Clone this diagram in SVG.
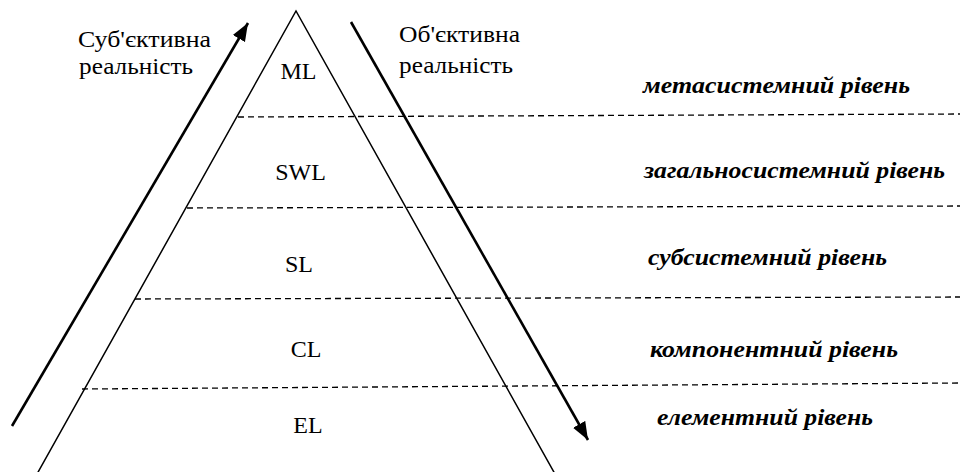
<svg xmlns="http://www.w3.org/2000/svg" width="960" height="472" viewBox="0 0 960 472">
<defs>
<style>
.lbl{font-family:"Liberation Serif","Times New Roman",serif;font-size:24px;fill:#000}
.lvl{font-family:"Liberation Serif","Times New Roman",serif;font-size:23px;font-weight:bold;font-style:italic;fill:#000}
.dash{stroke:#000;stroke-width:1.3;stroke-dasharray:6 4;fill:none}
.arr{stroke:#000;stroke-width:2.6;fill:none;marker-end:url(#ah)}
</style>
<marker id="ah" markerUnits="userSpaceOnUse" markerWidth="20" markerHeight="16" refX="18" refY="7" orient="auto" viewBox="0 0 20 14">
<path d="M0,0 L18,7 L0,14 Z" fill="#000"/>
</marker>
</defs>
<rect width="960" height="472" fill="#fff"/>
<g id="pyramid">
<polyline points="37,474 296,11 555,474" fill="none" stroke="#000" stroke-width="1.5"/>
</g>
<g id="levels">
<line class="dash" x1="238" y1="117" x2="960" y2="114"/>
<line class="dash" x1="187" y1="208" x2="960" y2="206"/>
<line class="dash" x1="135" y1="299" x2="960" y2="297"/>
<line class="dash" x1="82" y1="389" x2="960" y2="383"/>
</g>
<g id="connectors">
<line class="arr" x1="12" y1="426" x2="248" y2="23"/>
<line class="arr" x1="351" y1="22" x2="588" y2="440"/>
</g>
<g id="subjective">
<text class="lbl" x="78" y="47" textLength="133" lengthAdjust="spacingAndGlyphs">Суб'єктивна</text>
<text class="lbl" x="79" y="74" textLength="114" lengthAdjust="spacingAndGlyphs">реальність</text>
</g>
<g id="objective">
<text class="lbl" x="399" y="42" textLength="121" lengthAdjust="spacingAndGlyphs">Об'єктивна</text>
<text class="lbl" x="399" y="73" textLength="114" lengthAdjust="spacingAndGlyphs">реальність</text>
</g>
<g id="ML"><text class="lbl" x="298.5" y="79" text-anchor="middle">ML</text></g>
<g id="SWL"><text class="lbl" x="300.5" y="180" text-anchor="middle">SWL</text></g>
<g id="SL"><text class="lbl" x="299" y="272" text-anchor="middle">SL</text></g>
<g id="CL"><text class="lbl" x="306" y="357" text-anchor="middle">CL</text></g>
<g id="EL"><text class="lbl" x="308" y="433" text-anchor="middle">EL</text></g>
<g id="meta"><text class="lvl" x="643" y="93" textLength="267" lengthAdjust="spacingAndGlyphs">метасистемний рівень</text></g>
<g id="general"><text class="lvl" x="644" y="178" textLength="301" lengthAdjust="spacingAndGlyphs">загальносистемний рівень</text></g>
<g id="sub"><text class="lvl" x="648" y="265" textLength="239" lengthAdjust="spacingAndGlyphs">субсистемний рівень</text></g>
<g id="comp"><text class="lvl" x="650" y="357" textLength="248" lengthAdjust="spacingAndGlyphs">компонентний рівень</text></g>
<g id="elem"><text class="lvl" x="657" y="425" textLength="216" lengthAdjust="spacingAndGlyphs">елементний рівень</text></g>
</svg>
